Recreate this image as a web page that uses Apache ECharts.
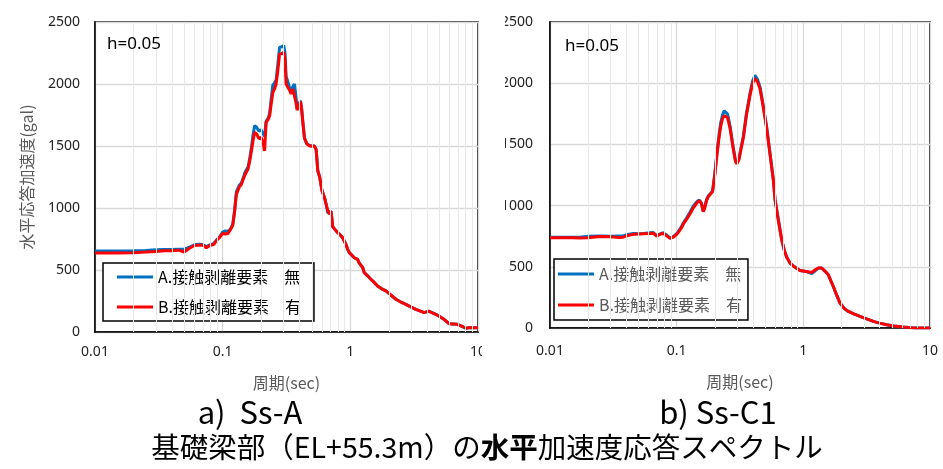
<!DOCTYPE html>
<html>
<head>
<meta charset="utf-8">
<script src="https://cdn.jsdelivr.net/npm/echarts@6/dist/echarts.min.js"></script>
<style>
  html, body { margin: 0; padding: 0; background: #fff; }
  #main { width: 943px; height: 469px; }
</style>
</head>
<body>
<div id="main"></div>
<script>
// a) Ss-A
var periodsA = [0.01, 0.015, 0.02, 0.025, 0.03, 0.035, 0.04, 0.045, 0.05, 0.055, 0.06, 0.066, 0.07, 0.0745, 0.08, 0.085, 0.09, 0.095,
    0.1, 0.105, 0.11, 0.115, 0.12, 0.124, 0.128, 0.135, 0.14, 0.144, 0.15, 0.158, 0.163, 0.168, 0.173, 0.178, 0.185, 0.192,
    0.2, 0.207, 0.213, 0.219, 0.226, 0.233, 0.24, 0.247, 0.255, 0.262, 0.27, 0.279, 0.29, 0.301, 0.308, 0.314, 0.324, 0.334,
    0.344, 0.355, 0.365, 0.375, 0.383, 0.395, 0.407, 0.416, 0.424, 0.437, 0.455, 0.478, 0.5, 0.523, 0.54, 0.556, 0.575, 0.6,
    0.615, 0.63, 0.65, 0.665, 0.685, 0.706, 0.728, 0.773, 0.82, 0.871, 0.925, 0.953, 0.982, 1.074, 1.14, 1.175, 1.25, 1.286,
    1.36, 1.449, 1.54, 1.634, 1.75, 1.9, 2.07, 2.275, 2.5, 2.72, 3.0, 3.26, 3.5, 3.79, 4.1, 4.4, 4.67, 5.0, 5.42, 5.93, 6.4,
    6.89, 7.5, 8.02, 8.5, 9.0, 10];
var noSepA = [653, 653, 655, 658, 663, 665, 665, 667, 668, 685, 703, 707, 705, 688, 705, 712, 745, 770,
    805, 815, 810, 830, 870, 980, 1130, 1185, 1200, 1235, 1290, 1330, 1400, 1490, 1590, 1665, 1650, 1620,
    1630, 1600, 1580, 1700, 1720, 1760, 1880, 1990, 2010, 2030, 2150, 2295, 2300, 2310, 2250, 2060, 2020, 1970,
    1950, 1980, 2000, 1900, 1800, 1840, 1865, 1800, 1700, 1565, 1520, 1505, 1500, 1500, 1470, 1300, 1250, 1140,
    1110, 1080, 1020, 960, 950, 975, 850, 815, 790, 760, 705, 667, 640, 599, 586, 555, 520, 478,
    455, 425, 400, 371, 350, 331, 300, 264, 240, 223, 200, 183, 170, 156, 168, 155, 143, 125, 102, 67, 65,
    62, 45, 30, 34, 35, 35];
var sepA = [637, 637, 640, 645, 650, 655, 655, 660, 645, 675, 698, 702, 700, 680, 700, 705, 740, 765,
    795, 790, 795, 825, 860, 970, 1110, 1170, 1190, 1225, 1270, 1315, 1380, 1460, 1545, 1610, 1595, 1560,
    1570, 1530, 1460, 1690, 1710, 1740, 1840, 1930, 1960, 2000, 2100, 2240, 2245, 2255, 2200, 2000, 1990, 1950,
    1920, 1960, 1945, 1850, 1790, 1820, 1860, 1790, 1700, 1565, 1520, 1500, 1500, 1500, 1470, 1300, 1250, 1140,
    1110, 1075, 1020, 980, 950, 975, 850, 815, 790, 760, 705, 667, 640, 599, 586, 555, 520, 478,
    455, 425, 400, 371, 350, 331, 300, 264, 240, 223, 200, 183, 170, 156, 168, 155, 143, 125, 102, 67, 65,
    62, 45, 30, 34, 35, 35];

// b) Ss-C1
var periodsC = [0.01, 0.015, 0.0172, 0.02, 0.0207, 0.0248, 0.03, 0.035, 0.0379, 0.041, 0.0455, 0.05, 0.055, 0.0616, 0.0654,
    0.0695, 0.0745, 0.0785, 0.083, 0.0886, 0.0914, 0.095, 0.1, 0.103, 0.108, 0.113, 0.12, 0.128, 0.135, 0.145, 0.151, 0.157,
    0.162, 0.166, 0.172, 0.178, 0.185, 0.192, 0.2, 0.207, 0.215, 0.222, 0.23, 0.237, 0.244, 0.252, 0.264, 0.278, 0.29, 0.298,
    0.31, 0.322, 0.336, 0.355, 0.379, 0.398, 0.415, 0.435, 0.455, 0.48, 0.514, 0.545, 0.58, 0.598, 0.634, 0.675, 0.705, 0.738,
    0.785, 0.85, 0.941, 1.05, 1.164, 1.25, 1.313, 1.396, 1.48, 1.575, 1.65, 1.725, 1.83, 1.946, 2.1, 2.265, 2.5, 2.8, 3.2,
    3.57, 4.0, 4.55, 5.2, 6.15, 7.4, 8.5, 10];
var noSepC = [742, 742, 742, 750, 752, 752, 750, 752, 752, 765, 772, 770, 772, 778, 780,
    755, 770, 778, 760, 735, 730, 750, 770, 775, 820, 860, 900, 950, 995, 1035, 1045, 1020,
    955, 980, 1050, 1080, 1100, 1120, 1260, 1410, 1560, 1670, 1740, 1775, 1780, 1750, 1650, 1490, 1380, 1345,
    1380, 1470, 1565, 1750, 1915, 2020, 2065, 2030, 1970, 1830, 1640, 1430, 1210, 1050, 890, 720, 640, 580,
    530, 500, 470, 462, 445, 470, 490, 490, 465, 435, 385, 339, 270, 204, 160, 135, 115, 95, 72,
    54, 40, 27, 17, 8, 1, 0, 0];
var sepC = [738, 738, 735, 738, 745, 748, 745, 740, 742, 755, 765, 768, 770, 772, 775,
    750, 768, 772, 755, 732, 725, 745, 765, 770, 810, 850, 890, 935, 980, 1025, 1040, 1015,
    950, 975, 1040, 1073, 1095, 1114, 1250, 1395, 1540, 1640, 1710, 1735, 1742, 1720, 1630, 1480, 1370, 1340,
    1375, 1460, 1555, 1735, 1900, 2000, 2040, 2010, 1955, 1820, 1630, 1425, 1205, 1046, 883, 720, 640, 580,
    530, 500, 470, 462, 453, 478, 490, 490, 465, 435, 385, 339, 270, 204, 160, 135, 115, 95, 72,
    54, 40, 27, 17, 8, 1, 0, 0];

var yTicks = [0, 500, 1000, 1500, 2000, 2500];
var minorPeriods = [0.02, 0.03, 0.04, 0.05, 0.06, 0.07, 0.08, 0.09,
    0.2, 0.3, 0.4, 0.5, 0.6, 0.7, 0.8, 0.9,
    2, 3, 4, 5, 6, 7, 8, 9];

var nameA = 'A.接触剥離要素\u3000無';
var nameB = 'B.接触剥離要素\u3000有';

var pairs = function (xs, ys) {
    return xs.map(function (x, i) { return [x, ys[i]]; });
};

var numFont = 'Noto Sans';
var jpFont = 'Noto Sans CJK JP';

var makeX = function (idx, gap, margin) {
    return {
        type: 'log', logBase: 10, gridIndex: idx, min: 0.01, max: 10,
        name: '周期(sec)', nameLocation: 'middle', nameGap: gap,
        nameTextStyle: { fontFamily: jpFont, fontSize: 16, color: '#595959' },
        axisLine: { show: true, lineStyle: { color: '#000', width: 1.5 } },
        axisTick: { show: false },
        axisLabel: { fontFamily: numFont, fontSize: 14, color: '#222', margin: margin },
        splitLine: { show: true, lineStyle: { color: '#d9d9d9', width: 1.3 } }
    };
};
var makeY = function (idx, margin, withName) {
    return {
        type: 'value', gridIndex: idx, min: yTicks[0], max: yTicks[yTicks.length - 1], interval: 500,
        name: withName ? '水平応答加速度(gal)' : '', nameLocation: 'middle', nameGap: 60, nameRotate: 90,
        nameTextStyle: { fontFamily: jpFont, fontSize: 16, color: '#595959' },
        axisLine: { show: true, lineStyle: { color: '#000', width: 1.5 } },
        axisTick: { show: false },
        axisLabel: {
            fontFamily: numFont, fontSize: 14, color: '#222', margin: margin,
            formatter: function (v) { return String(v); }
        },
        splitLine: { show: true, lineStyle: { color: '#d9d9d9', width: 1.3 } }
    };
};

// log-axis minor grid (2..9 of each decade)
var minorLines = function (idx) {
    return {
        type: 'line', xAxisIndex: idx, yAxisIndex: idx, data: [], z: 1, silent: true,
        markLine: {
            silent: true, symbol: ['none', 'none'], animation: false,
            label: { show: false },
            lineStyle: { color: '#e8e8e8', type: 'solid', width: 1 },
            emphasis: { disabled: true },
            data: minorPeriods.map(function (p) { return { xAxis: p }; })
        }
    };
};

var curve = function (name, idx, xs, ys, color, z) {
    return {
        name: name, type: 'line', xAxisIndex: idx, yAxisIndex: idx, z: z,
        data: pairs(xs, ys), showSymbol: false, symbol: 'none',
        lineStyle: { color: color, width: 3 }, itemStyle: { color: color },
        animation: false
    };
};

var legendBox = function (left, top, padding, textColor, gap) {
    return {
        orient: 'vertical', left: left, top: top, padding: padding,
        data: [nameA, nameB], icon: 'rect', itemWidth: 36, itemHeight: 3, itemGap: gap,
        backgroundColor: '#fff', borderColor: '#000', borderWidth: 1.5,
        selectedMode: false,
        textStyle: { fontFamily: jpFont, fontSize: 16, color: textColor }
    };
};

var chart = echarts.init(document.getElementById('main'), null, { renderer: 'canvas' });
chart.setOption({
    backgroundColor: '#fff',
    animation: false,
    grid: [
        { left: 95, top: 22, width: 383, height: 310, show: true, borderColor: '#000', borderWidth: 1.5, backgroundColor: 'transparent' },
        { left: 550, top: 22, width: 380, height: 306, show: true, borderColor: '#000', borderWidth: 1.5, backgroundColor: 'transparent' }
    ],
    xAxis: [makeX(0, 43, 13), makeX(1, 46, 16)],
    yAxis: [makeY(0, 15, true), makeY(1, 17, false)],
    legend: [
        legendBox(103, 263, [6, 13, 6, 14], '#000', 14),
        legendBox(554, 259, [7, 6, 7, 4], '#595959', 15)
    ],
    series: [
        minorLines(0),
        minorLines(1),
        curve(nameA, 0, periodsA, noSepA, '#0070c0', 3),
        curve(nameB, 0, periodsA, sepA, '#ff0000', 4),
        curve(nameA, 1, periodsC, noSepC, '#0070c0', 3),
        curve(nameB, 1, periodsC, sepC, '#ff0000', 4)
    ],
    graphic: [
        // the two panels were cropped side by side: hide the cut-off strip
        { type: 'rect', z: 100, shape: { x: 482, y: 0, width: 23, height: 372 }, style: { fill: '#fff' } },
        { type: 'text', z: 101, style: { text: 'h=0.05', x: 107, y: 44, verticalAlign: 'middle', font: '17px "Noto Sans"', fill: '#000' } },
        { type: 'text', z: 101, style: { text: 'h=0.05', x: 565, y: 46, verticalAlign: 'middle', font: '17px "Noto Sans"', fill: '#000' } },
        { type: 'text', z: 101, style: { text: 'a)  Ss-A', x: 250, y: 412, align: 'center', verticalAlign: 'middle', font: '31px "Noto Sans CJK JP"', fill: '#000' } },
        { type: 'text', z: 101, style: { text: 'b) Ss-C1', x: 718, y: 412, align: 'center', verticalAlign: 'middle', font: '31px "Noto Sans CJK JP"', fill: '#000' } },
        {
            type: 'text', z: 101,
            style: {
                text: '{n|基礎梁部（EL+55.3m）の}{b|水平}{n|加速度応答スペクトル}',
                x: 487, y: 447, align: 'center', verticalAlign: 'middle',
                rich: {
                    n: { fontFamily: jpFont, fontSize: 28.5, fill: '#000' },
                    b: { fontFamily: jpFont, fontSize: 28.5, fontWeight: 'bold', fill: '#000' }
                }
            }
        }
    ]
});
</script>
</body>
</html>
